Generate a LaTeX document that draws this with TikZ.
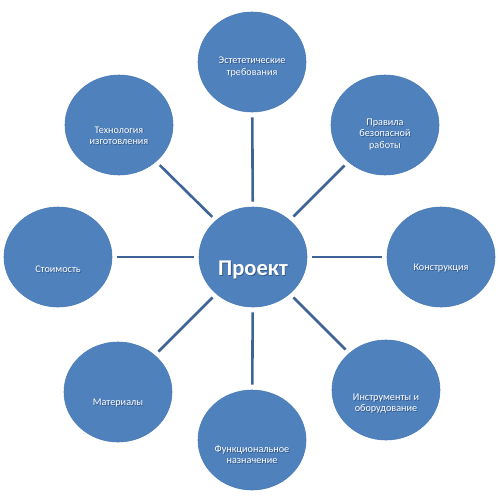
\documentclass[tikz,border=0pt]{standalone}
\usepackage{fontspec}
\setmainfont{Carlito}
\usetikzlibrary{shapes.geometric}
\definecolor{bubble}{HTML}{4F81BD}
\definecolor{bubbleedge}{HTML}{4A7BB7}
\definecolor{connline}{HTML}{3E6497}
\definecolor{shade}{HTML}{1F3A5F}
\tikzset{
  bubblenode/.style={ellipse, fill=bubble, draw=bubbleedge, line width=0.6pt,
    minimum width=108pt, minimum height=100pt, inner sep=0pt},
  hubnode/.style={bubblenode},
  conn/.style={draw=connline, line width=2.6pt, shorten >=5pt, shorten <=5pt},
  smalltext/.style={text=white, align=center, font=\fontsize{10.2}{11.2}\selectfont, inner sep=0pt},
  bigtext/.style={text=white, font=\fontsize{22.5}{25}\selectfont\bfseries, inner sep=0pt}
}
\newcommand{\labelpair}[4]{%
  \node[#4, text=shade, opacity=0.55] at ([shift={(0.8pt,-0.8pt)}]#2) {#3};
  \node[#4] (#1) at (#2) {#3};}
\begin{document}
\begin{tikzpicture}[x=1pt,y=-1pt]
\useasboundingbox (0,0) rectangle (500,496);
\fill[white] (0,0) rectangle (500,496);
% bubbles
\node[hubnode] (c) at (253,257) {};
\node[bubblenode] (t) at (252,62) {};
\node[bubblenode] (tr) at (385,125) {};
\node[bubblenode] (r) at (441,257) {};
\node[bubblenode] (br) at (386,390) {};
\node[bubblenode] (b) at (252,440) {};
\node[bubblenode] (bl) at (118,392) {};
\node[bubblenode] (l) at (58,257) {};
\node[bubblenode] (tl) at (119,125) {};
% connectors
\foreach \n in {t,tr,r,br,b,bl,l,tl} { \draw[conn] (c) -- (\n); }
% labels
\labelpair{ct}{253,270}{Проект}{bigtext}
\labelpair{tt}{252,67}{Эстететические\\требования}{smalltext}
\labelpair{trt}{385,134.5}{Правила\\безопасной\\работы}{smalltext}
\labelpair{rt}{441,268}{Конструкция}{smalltext}
\labelpair{brt}{386,403.5}{Инструменты и\\оборудование}{smalltext}
\labelpair{bt}{252,455}{Функциональное\\назначение}{smalltext}
\labelpair{blt}{118,403}{Материалы}{smalltext}
\labelpair{lt}{58,269}{Стоимость}{smalltext}
\labelpair{tlt}{119,135.5}{Технология\\изготовления}{smalltext}
\end{tikzpicture}
\end{document}
